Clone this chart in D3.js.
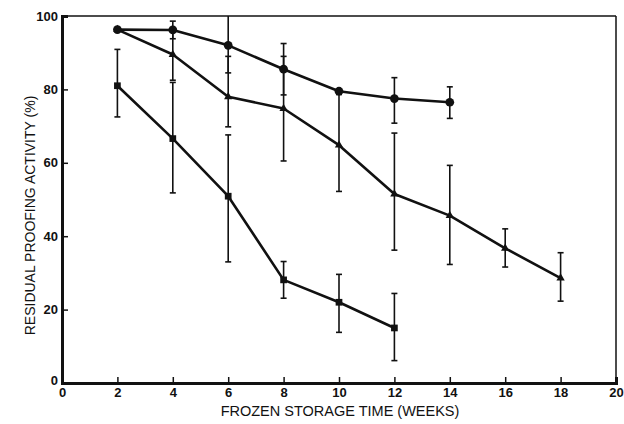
<!DOCTYPE html>
<html><head><meta charset="utf-8">
<script src="https://cdn.jsdelivr.net/npm/d3@7"></script>
<style>
html,body{margin:0;padding:0;background:#fff;}
text{font-family:"Liberation Sans",Arial,sans-serif;fill:#111;}
</style></head>
<body><div id="chart"></div>
<script>
// ---- data ----
const xTicks = [0,2,4,6,8,10,12,14,16,18,20];
const yTicks = [0,20,40,60,80,100];

const weeksA = [2,4,6,8,10,12,14];
const valsA  = [96.3,96.2,92,85.5,79.5,77.5,76.5];
const loA    = [96.3,93.8,84.5,78.5,79.5,70.8,72.1];
const hiA    = [96.3,98.6,100,92.5,79.5,83.2,80.7];

const weeksB = [2,4,6,8,10,12,14,16,18];
const valsB  = [96.3,89.5,78,74.8,64.8,51.5,45.6,36.7,28.6];
const loB    = [96.3,82.5,69.8,60.5,52.2,36.2,32.3,31.6,22.3];
const hiB    = [96.3,96.5,89,89,78.6,68.1,59.3,42,35.5];

const weeksC = [2,4,6,8,10,12];
const valsC  = [81,66.6,50.9,28.1,22,15];
const loC    = [72.5,51.8,33,23.1,13.8,6.1];
const hiC    = [90.9,81.9,67.6,33.1,29.6,24.4];

const xLabel = "FROZEN STORAGE TIME (WEEKS)";
const yLabel = "RESIDUAL PROOFING ACTIVITY (%)";

// ---- layout ----
const W = 624, H = 424;
const L = 62, R = 616, T = 16, B = 383;

const svg = d3.select("#chart").append("svg").attr("width", W).attr("height", H);
const x = d3.scaleLinear().domain([0,20]).range([L,R]);
const y = d3.scaleLinear().domain([0,100]).range([B,T]);

// frame top/right (thin)
svg.append("line").attr("x1",L).attr("x2",R).attr("y1",T).attr("y2",T).attr("stroke","#111").attr("stroke-width",1.5);
svg.append("line").attr("x1",R).attr("x2",R).attr("y1",T).attr("y2",B).attr("stroke","#111").attr("stroke-width",1.5);

const fs = 13;
const gx = svg.append("g").attr("transform",`translate(0,${B})`)
  .call(d3.axisBottom(x).tickValues(xTicks).tickSize(-6).tickPadding(5).tickFormat(d3.format("d")));
const gy = svg.append("g").attr("transform",`translate(${L},0)`)
  .call(d3.axisLeft(y).tickValues(yTicks).tickSize(-6).tickPadding(4).tickFormat(d3.format("d")));
[gx,gy].forEach(g=>{
  g.select(".domain").attr("stroke","#111").attr("stroke-width",3);
  g.selectAll(".tick line").attr("stroke","#111").attr("stroke-width",1.5);
  g.selectAll(".tick text").attr("font-size",fs).attr("font-family","Liberation Sans, Arial, sans-serif").attr("fill","#111").attr("font-weight","bold");
});
gx.selectAll(".tick line").filter(d=>d===0||d===20).remove();
gy.selectAll(".tick line").filter(d=>d===0||d===100).remove();
gy.selectAll(".tick text").filter(d=>d===0).attr("dy","0.1em");

svg.append("text").attr("x",(L+R)/2+1).attr("y",416).attr("text-anchor","middle")
  .attr("font-size",14.5).text(xLabel);
svg.append("text").attr("transform",`translate(35,${(T+B)/2+16}) rotate(-90)`).attr("text-anchor","middle")
  .attr("font-size",14).text(yLabel);

const series = [
  {w:weeksA, v:valsA, lo:loA, hi:hiA, shape:"circle"},
  {w:weeksB, v:valsB, lo:loB, hi:hiB, shape:"triangle"},
  {w:weeksC, v:valsC, lo:loC, hi:hiC, shape:"square"}
];
const line = d3.line().x(d=>x(d.w)).y(d=>y(d.v));
const cap = 3;

series.forEach(s=>{
  const pts = s.w.map((w,i)=>({w, v:s.v[i], lo:s.lo[i], hi:s.hi[i]}));
  const g = svg.append("g");
  const eb = pts.filter(p=>p.hi>p.lo);
  g.selectAll("line.eb").data(eb).join("line").attr("class","eb")
    .attr("x1",d=>x(d.w)).attr("x2",d=>x(d.w)).attr("y1",d=>y(d.lo)).attr("y2",d=>y(d.hi))
    .attr("stroke","#111").attr("stroke-width",1.6);
  ["lo","hi"].forEach(k=>{
    g.selectAll("line.c"+k).data(eb.filter(d=>!(k==="hi"&&d.hi>=100))).join("line").attr("class","c"+k)
      .attr("x1",d=>x(d.w)-cap).attr("x2",d=>x(d.w)+cap).attr("y1",d=>y(d[k])).attr("y2",d=>y(d[k]))
      .attr("stroke","#111").attr("stroke-width",1.6);
  });
  g.append("path").datum(pts).attr("d",line).attr("fill","none").attr("stroke","#111").attr("stroke-width",2.6).attr("stroke-linejoin","round");
  const sym = s.shape==="circle" ? d3.symbol(d3.symbolCircle,60)
            : s.shape==="square" ? d3.symbol(d3.symbolSquare,45)
            : d3.symbol(d3.symbolTriangle,30);
  g.selectAll("path.m").data(pts).join("path").attr("class","m")
    .attr("transform",d=>`translate(${x(d.w)},${y(d.v)})`).attr("d",sym).attr("fill","#111");
});
</script></body></html>
